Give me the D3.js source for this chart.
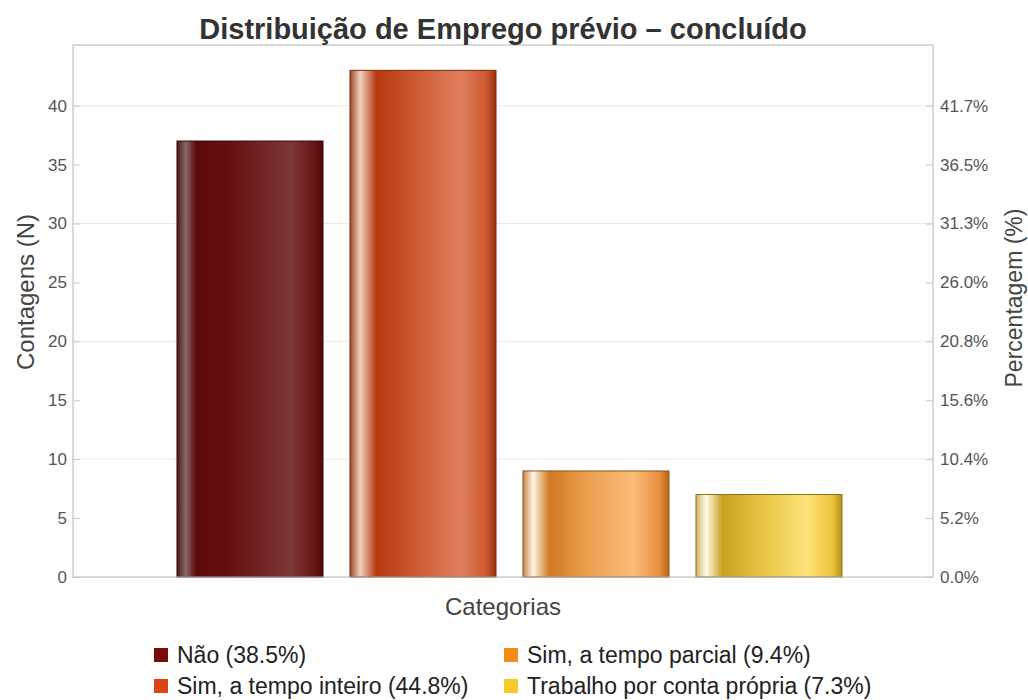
<!DOCTYPE html>
<html lang="pt">
<head>
    <meta charset="UTF-8">
    <title>Distribuição de Emprego prévio</title>
    <script src="https://d3js.org/d3.v7.min.js"></script>
    <style>
        html, body {
            margin: 0;
            padding: 0;
            background: #fff;
            font-family: "Liberation Sans", Arial, sans-serif;
        }
        #chart { display: block; }
    </style>
</head>
<body>
    <svg id="chart" width="1028" height="700"></svg>

    <script>
        // data
        const categories = ["Não", "Sim, a tempo inteiro", "Sim, a tempo parcial", "Trabalho por conta própria"];
        const counts = [37, 43, 9, 7];
        const left_ticks = [0, 5, 10, 15, 20, 25, 30, 35, 40];
        const grid_ticks = [10, 20, 30, 40];
        const base_colors = ["#7b0c0c", "#dc4316", "#f48c1c", "#f6ca2a"];

        // cylinder-like shading stops per bar: [offset, colour]
        const shades = [
            [[0, "#4a1a1a"], [0.06, "#8a6a6a"], [0.13, "#5c0a0a"], [0.35, "#660e0e"], [0.78, "#7a3838"], [0.93, "#6a1818"], [1, "#4a0a0a"]],
            [[0, "#9a4a2a"], [0.07, "#f0d2c0"], [0.18, "#b5380f"], [0.45, "#cc5a30"], [0.76, "#e08060"], [0.93, "#d05a30"], [1, "#9a3010"]],
            [[0, "#c88850"], [0.07, "#fff4e4"], [0.18, "#d07a22"], [0.45, "#eca050"], [0.76, "#f8bc78"], [0.93, "#e89040"], [1, "#b86818"]],
            [[0, "#d0b060"], [0.07, "#fffbe8"], [0.18, "#c8a020"], [0.45, "#e6c444"], [0.76, "#ffe27a"], [0.93, "#ecc640"], [1, "#b89018"]]
        ];
        const border_colors = ["#3a0606", "#7a2810", "#8a5420", "#8a7420"];

        const total = d3.sum(counts);

        const svg = d3.select("#chart");
        const margin = { left: 73, right: 95, top: 45, bottom: 123 };
        const width = 1028, height = 700;
        const x0 = margin.left, x1 = width - margin.right;
        const y0 = height - margin.bottom, y1 = margin.top;

        const x = d3.scaleBand()
            .domain(categories)
            .range([163.5, 855.5])
            .paddingInner(0.156)
            .paddingOuter(0.078);

        const y_max = d3.max(counts) * 1.05;
        const y = d3.scaleLinear().domain([0, y_max]).range([y0, y1]);

        // gradients
        const defs = svg.append("defs");
        shades.forEach((stops, i) => {
            const g = defs.append("linearGradient")
                .attr("id", "bar_grad_" + i)
                .attr("x1", "0%").attr("x2", "100%")
                .attr("y1", "0%").attr("y2", "0%");
            stops.forEach(s => g.append("stop").attr("offset", s[0]).attr("stop-color", s[1]));
        });

        // gridlines
        svg.append("g")
            .selectAll("line")
            .data(grid_ticks)
            .enter().append("line")
            .attr("x1", x0).attr("x2", x1)
            .attr("y1", d => y(d)).attr("y2", d => y(d))
            .attr("stroke", "#ebebeb")
            .attr("stroke-width", 1);

        // bars
        svg.append("g")
            .selectAll("rect")
            .data(counts)
            .enter().append("rect")
            .attr("x", (d, i) => x(categories[i]))
            .attr("y", d => y(d))
            .attr("width", x.bandwidth())
            .attr("height", d => y(0) - y(d))
            .attr("fill", (d, i) => `url(#bar_grad_${i})`)
            .attr("stroke", (d, i) => border_colors[i])
            .attr("stroke-width", 1);

        // frame
        svg.append("rect")
            .attr("x", x0).attr("y", y1)
            .attr("width", x1 - x0).attr("height", y0 - y1)
            .attr("fill", "none")
            .attr("stroke", "#b4b4b4")
            .attr("stroke-width", 1);

        // left axis
        const left_axis = svg.append("g")
            .attr("transform", `translate(${x0},0)`)
            .call(d3.axisLeft(y).tickValues(left_ticks).tickSizeInner(-7).tickSizeOuter(0).tickPadding(6));

        // right axis, same positions shown as a share of the total
        const right_axis = svg.append("g")
            .attr("transform", `translate(${x1},0)`)
            .call(d3.axisRight(y).tickValues(left_ticks)
                .tickFormat(d => (d / total * 100).toFixed(1) + "%")
                .tickSizeInner(-7).tickSizeOuter(0).tickPadding(7));

        [left_axis, right_axis].forEach(ax => {
            ax.select(".domain").remove();
            ax.selectAll(".tick line").attr("stroke", "#c4c4c4");
            ax.selectAll(".tick text")
                .attr("fill", "#555")
                .attr("font-size", "17px")
                .attr("font-family", "Liberation Sans, Arial, sans-serif");
        });

        // title
        svg.append("text")
            .attr("x", (x0 + x1) / 2)
            .attr("y", 39)
            .attr("text-anchor", "middle")
            .attr("font-size", "29px")
            .attr("font-weight", "bold")
            .attr("fill", "#333")
            .text("Distribuição de Emprego prévio – concluído");

        // axis labels
        svg.append("text")
            .attr("transform", "translate(34,292) rotate(-90)")
            .attr("text-anchor", "middle")
            .attr("font-size", "24px")
            .attr("fill", "#444")
            .text("Contagens (N)");

        svg.append("text")
            .attr("transform", "translate(1022,298) rotate(-90)")
            .attr("text-anchor", "middle")
            .attr("font-size", "23px")
            .attr("fill", "#444")
            .text("Percentagem (%)");

        svg.append("text")
            .attr("x", (x0 + x1) / 2)
            .attr("y", 615)
            .attr("text-anchor", "middle")
            .attr("font-size", "24px")
            .attr("fill", "#444")
            .text("Categorias");

        // legend, two columns
        const legend_pos = [[154, 655], [154, 686], [504, 655], [504, 686]];
        const legend = svg.append("g")
            .selectAll("g")
            .data(categories)
            .enter().append("g")
            .attr("transform", (d, i) => `translate(${legend_pos[i][0]},${legend_pos[i][1]})`);

        legend.append("rect")
            .attr("x", 0).attr("y", -7)
            .attr("width", 14).attr("height", 14)
            .attr("fill", (d, i) => base_colors[i]);

        legend.append("text")
            .attr("x", 23)
            .attr("y", 0)
            .attr("dy", "0.35em")
            .attr("font-size", "23px")
            .attr("fill", "#222")
            .text((d, i) => `${d} (${(counts[i] / total * 100).toFixed(1)}%)`);
    </script>
</body>
</html>
